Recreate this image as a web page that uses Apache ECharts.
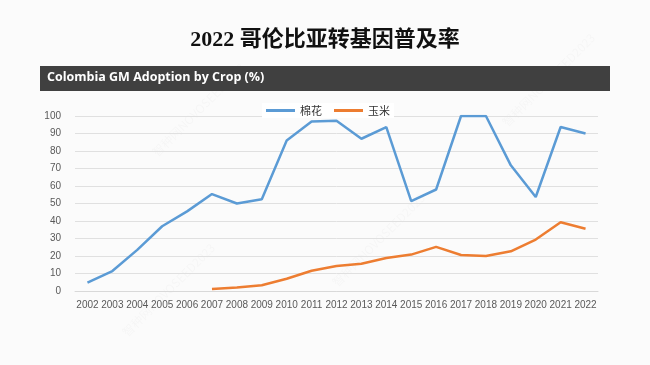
<!DOCTYPE html>
<html><head><meta charset="utf-8">
<script src="https://cdn.jsdelivr.net/npm/echarts@6/dist/echarts.min.js"></script>
<style>html,body{margin:0;padding:0;background:#fbfbfb}#c{width:650px;height:365px}</style>
</head><body><div id="c"></div>
<script>
var years = ['2002','2003','2004','2005','2006','2007','2008','2009','2010','2011','2012','2013','2014','2015','2016','2017','2018','2019','2020','2021','2022'];
var cotton = [4.8, 11.4, 23.5, 37, 45.5, 55.4, 50, 52.4, 86, 96.8, 97.3, 87, 93.7, 51.4, 58, 100, 100, 71.8, 53.7, 93.7, 90];
var maize = [null, null, null, null, null, 1.2, 2, 3.3, 7, 11.6, 14.3, 15.6, 18.9, 20.8, 25.2, 20.6, 20, 22.7, 29.4, 39.3, 35.6];
var seriesNames = ['棉花', '玉米'];
var yTicks = [0, 10, 20, 30, 40, 50, 60, 70, 80, 90, 100];

var chart = echarts.init(document.getElementById('c'), null, {renderer: 'canvas'});
var wm = [];
[[150,150],[330,280],[500,120],[120,330]].forEach(function(p){
  wm.push({type:'text', x:p[0], y:p[1], rotation: Math.PI/4, style:{text:'智种网NOVOSEED2023', fill:'rgba(0,0,0,0.025)', font:'12px "Noto Sans CJK SC"'}, z:0});
});
chart.setOption({
  backgroundColor: '#fbfbfb',
  animation: false,
  title: {
    text: '2022 哥伦比亚转基因普及率',
    left: 'center', top: 24,
    textStyle: {fontFamily: '"Liberation Serif","Noto Sans CJK SC"', fontWeight: 'bold', fontSize: 22, color: '#111'}
  },
  graphic: [
    {type: 'rect', shape: {x: 40, y: 66, width: 570, height: 25}, style: {fill: '#404040'}, z: 1},
    {type: 'text', x: 47, y: 71, style: {text: 'Colombia GM Adoption by Crop (%)', fill: '#fff', font: 'bold 12.5px "Open Sans"'}, z: 2}
  ].concat(wm),
  legend: {
    data: seriesNames, top: 103, left: 262, itemWidth: 29, itemHeight: 3, itemGap: 12,
    icon: 'rect',
    backgroundColor: '#fff', padding: [2, 4],
    textStyle: {fontFamily: '"Noto Sans CJK SC"', fontSize: 11, color: '#333'}
  },
  grid: {left: 75, right: 52, top: 116, bottom: 74},
  xAxis: {
    type: 'category', data: years, boundaryGap: true,
    axisLine: {lineStyle: {color: '#d9d9d9'}}, axisTick: {show: false},
    axisLabel: {interval: 0, color: '#595959', fontSize: 10, fontFamily: '"Liberation Sans"', margin: 9}
  },
  yAxis: {
    type: 'value', min: yTicks[0], max: yTicks[yTicks.length-1], interval: 10,
    axisLine: {show: false}, axisTick: {show: false},
    axisLabel: {color: '#595959', fontSize: 10, fontFamily: '"Liberation Sans"', margin: 14},
    splitLine: {lineStyle: {color: '#e0e0e0'}}
  },
  series: [
    {name: seriesNames[0], type: 'line', data: cotton, symbol: 'none', lineStyle: {width: 2.5, color: '#5b9bd5'}, itemStyle: {color: '#5b9bd5'}},
    {name: seriesNames[1], type: 'line', data: maize, symbol: 'none', lineStyle: {width: 2.5, color: '#ed7d31'}, itemStyle: {color: '#ed7d31'}}
  ]
});
</script></body></html>
